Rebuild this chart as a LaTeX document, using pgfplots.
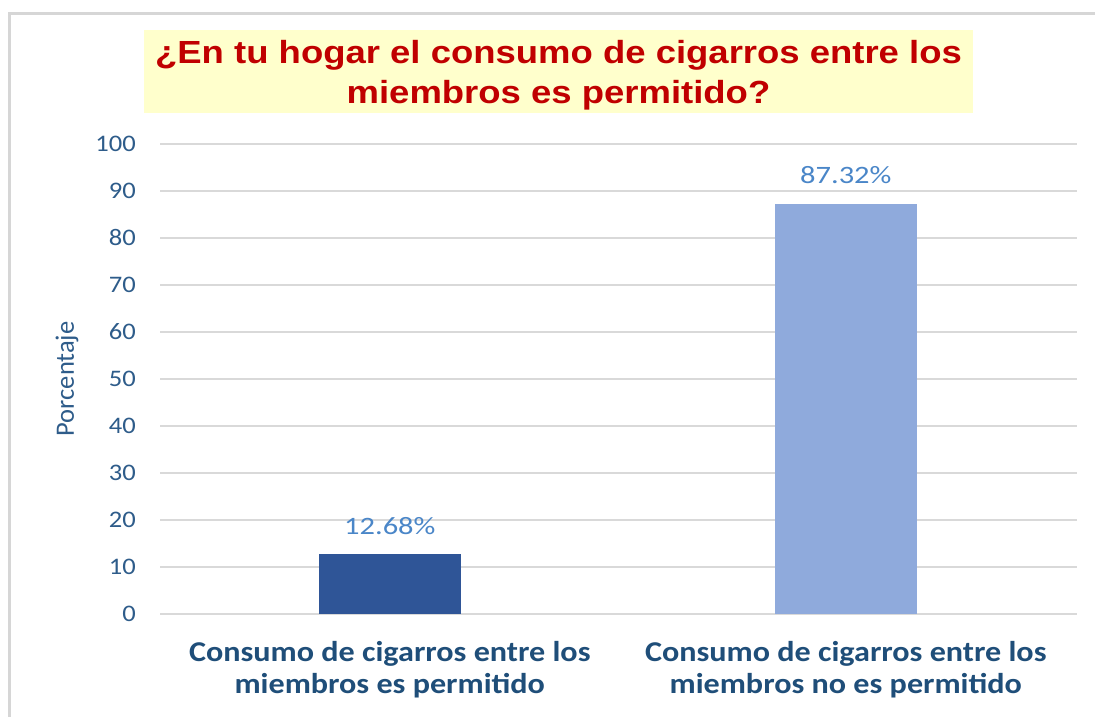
\documentclass[border=0pt]{standalone}
\usepackage{pgfplots}
\pgfplotsset{compat=1.18}
\usepackage{fontspec}
\setmainfont{Carlito}
\newfontfamily\carl[FakeStretch=1.12]{Carlito}
\newfontfamily\carldl[FakeStretch=1.22]{Carlito}
\newfontfamily\titlef[FakeStretch=1.14]{Liberation Sans}
\definecolor{titlered}{HTML}{C00000}
\definecolor{titlebg}{HTML}{FFFFCC}
\definecolor{darkbar}{HTML}{2F5597}
\definecolor{lightbar}{HTML}{8FAADC}
\definecolor{ticktext}{HTML}{2E5C8A}
\definecolor{xlab}{HTML}{1F4E79}
\definecolor{dlab}{HTML}{4A86C8}
\definecolor{gridc}{HTML}{D9D9D9}
\definecolor{framec}{HTML}{D6D6D6}
\begin{document}
\begin{tikzpicture}[x=1bp,y=1bp]
\path[use as bounding box] (0,0) rectangle (1095,717);
\fill[white] (0,0) rectangle (1095,717);
\draw[framec, line width=3bp] (9.5,0) -- (9.5,703.5) -- (1095,703.5);
\fill[titlebg] (144,604) rectangle (973,687);
\node[anchor=base, inner sep=0pt, text=titlered, font=\titlef\bfseries\fontsize{32bp}{38bp}\selectfont] at (558.5,653) {¿En tu hogar el consumo de cigarros entre los};
\node[anchor=base, inner sep=0pt, text=titlered, font=\titlef\bfseries\fontsize{32bp}{38bp}\selectfont] at (558.5,613) {miembros es permitido?};
\begin{axis}[
  at={(160bp,103bp)}, anchor=south west,
  scale only axis, width=917bp, height=470bp,
  xmin=-0.504, xmax=1.507, ymin=0, ymax=100,
  ytick={0,10,...,100},
  xtick={0,1},
  xticklabels={{Consumo de cigarros entre los\\miembros es permitido},{Consumo de cigarros entre los\\miembros no es permitido}},
  /pgf/number format/assume math mode=true,
  axis line style={draw=none},
  tick style={draw=none},
  major tick length=0pt,
  ymajorgrids,
  major grid style={gridc, line width=1.2bp},
  yticklabel style={font=\carl\fontsize{23.7bp}{28bp}\selectfont, text=ticktext, anchor=east, inner sep=0pt, xshift=-24bp},
  xticklabel style={font=\carl\bfseries\fontsize{28.7bp}{32bp}\selectfont, text=xlab, align=center, anchor=base, inner sep=0pt, yshift=-80bp},
  ylabel={Porcentaje},
  ylabel style={at={(axis description cs:-0.1014,0.5)}, anchor=center, font=\fontsize{26.5bp}{30bp}\selectfont, text=ticktext},
  clip=false,
  nodes near coords={\pgfmathprintnumber[fixed,fixed zerofill,precision=2]{\pgfplotspointmeta}\%},
  nodes near coords style={anchor=base, yshift=20bp, inner sep=0pt, font=\carldl\fontsize{25bp}{30bp}\selectfont, text=dlab},
]
\addplot[ybar, bar width=142bp, bar shift=0pt, fill=darkbar, draw=none] coordinates {(0,12.68)};
\addplot[ybar, bar width=142bp, bar shift=0pt, fill=lightbar, draw=none] coordinates {(1,87.32)};
\end{axis}
\end{tikzpicture}
\end{document}
